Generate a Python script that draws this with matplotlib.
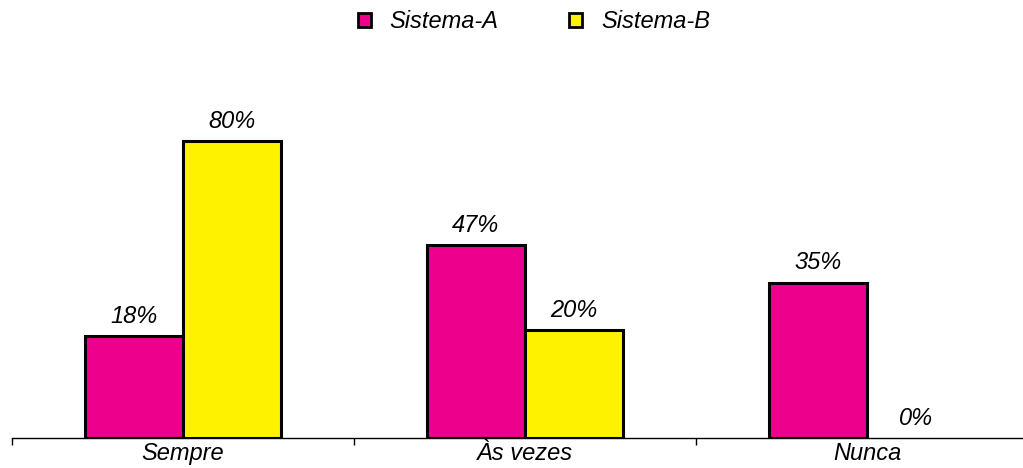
import numpy as np
import matplotlib
matplotlib.use("Agg")
import matplotlib.pyplot as plt
from matplotlib.patches import Patch

categories = ["Sempre", "Às vezes", "Nunca"]
series_names = ["Sistema-A", "Sistema-B"]
sistema_a = [18, 47, 35]
sistema_b = [80, 20, 0]

colors = ["#EC008C", "#FFF200"]
base = -14.3          # where the horizontal axis crosses
bar_w = 0.287

plt.rcParams['font.family'] = ['Liberation Sans', 'DejaVu Sans']

fig = plt.figure(figsize=(10.23, 4.68), dpi=100)
ax = fig.add_axes([12 / 1023, 30 / 468, 1026 / 1023, 378 / 468])

x = np.arange(len(categories))
for k, (vals, col) in enumerate(zip([sistema_a, sistema_b], colors)):
    vals = np.array(vals, dtype=float)
    pos = x + (k - 0.5) * bar_w
    # zero values get no bar, only the label sitting on the axis
    shown = vals > 0
    tops = np.where(shown, vals, base)
    ax.bar(pos[shown], tops[shown] - base, bottom=base, width=bar_w, color=col,
           edgecolor="black", linewidth=2.2, zorder=3)
    for px, v, t in zip(pos, vals, tops):
        ax.annotate(f"{v:.0f}%", (px, t), xytext=(0, 6), textcoords="offset points",
                    ha="center", va="bottom", fontsize=17, style="italic")

ax.set_xlim(-0.5, 2.5)
ax.set_ylim(base, base + 378 / 3.15)
for s in ["top", "right", "left"]:
    ax.spines[s].set_visible(False)
ax.spines["bottom"].set_linewidth(1.0)
ax.set_yticks([])
ax.set_xticks(x)
ax.set_xticklabels(categories, fontsize=17, style="italic")
ax.tick_params(axis="x", which="major", length=0, pad=3)
ax.set_xticks([-0.5, 0.5, 1.5, 2.5], minor=True)
ax.tick_params(axis="x", which="minor", length=5, width=1.0, direction="out")

handles = [Patch(facecolor=c, edgecolor="black", linewidth=2.0) for c in colors]
fig.legend(handles, series_names, loc="center", bbox_to_anchor=(534 / 1023, 1 - 22 / 468),
           ncol=2, frameon=False, prop={"size": 17, "style": "italic"},
           handlelength=0.55, handleheight=0.55, handletextpad=0.8, columnspacing=3.0)

fig.savefig("out.png", dpi=100)
